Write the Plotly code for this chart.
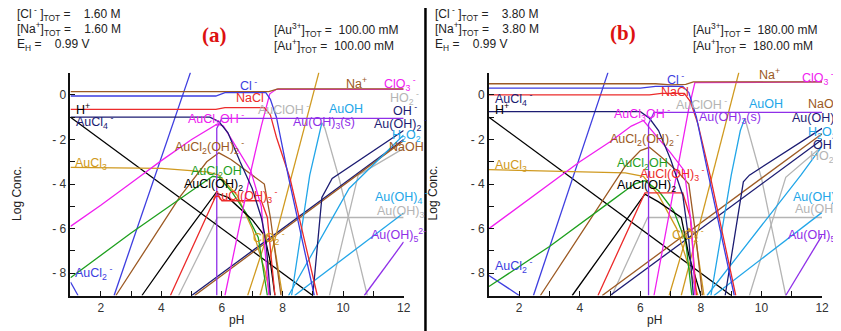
import plotly.graph_objects as go

# The page body has an 8px margin: the figure is sized so it fills the rest of the 841x331 window
OFF = 8
W, H = 841 - OFF, 331 - OFF

# ---------------- tick definitions ----------------
PH_TICKS = list(range(1, 13))
PH_TICKTEXT = [str(v) if v % 2 == 0 else "" for v in PH_TICKS]
LOG_TICKS = list(range(-9, 2))
LOG_TICKTEXT = [(("- %d" % -v) if v < 0 else "0") if v % 2 == 0 else "" for v in LOG_TICKS]

# ---------------- panel (a) series: (pH list, logC list) ----------------
a_H = ([1, 9], [-1, -9])
a_OH = ([5, 12], [-9, -2])
a_NaOH = ([5.1, 12], [-9, -2.05])
a_Na = ([1, 7.55, 7.85, 12], [0.15, 0.15, 0.27, 0.27])
a_Cl = ([1, 5.8, 6.1, 7.45, 7.6, 7.8, 8.2, 9.05], [-0.05, -0.05, 0.1, 0.1, -0.2, -1.0, -3.7, -9])
a_NaCl = ([1, 5.8, 6.1, 7.4, 7.6, 7.8, 8.25, 9.15], [-0.65, -0.65, -0.57, -0.57, -0.9, -1.9, -3.75, -9])
a_ClO3 = ([6.1, 6.96, 7.3, 7.58, 7.8, 12], [-9, -3.4, -1.4, 0.05, 0.25, 0.25])
a_AuCl4 = ([1, 5.6, 5.9, 6.2, 6.6, 7.0, 7.3, 7.45, 7.6], [-1.0, -1.0, -1.2, -1.7, -3.0, -4.2, -5.5, -6.5, -9])
a_AuOH3s = ([5.83, 5.83, 6.0, 12], [-9, -1.5, -1.05, -1.05])
a_AuCl3OH = ([1, 2, 3, 4, 5, 5.5, 5.85, 6.05, 6.4, 6.95, 7.3, 7.55],
             [-5.9, -4.95, -3.95, -2.95, -2.0, -1.6, -1.3, -1.4, -2.2, -3.4, -5.0, -9])
a_AuCl3 = ([1, 4, 5.5, 5.9, 6.5, 7.0, 7.4, 7.6], [-3.25, -3.3, -3.45, -3.6, -4.5, -6.0, -7.8, -9])
a_AuCl2OH2 = ([2.5, 3.5, 4.6, 5.5, 5.9, 6.3, 6.8, 7.4, 7.6, 7.95],
              [-9, -6.9, -4.6, -3.0, -2.6, -2.9, -3.4, -4.0, -5.5, -9])
a_AuCl2OH = ([1, 3, 5, 5.7, 5.9, 6.3, 6.8, 7.2, 7.5], [-8.2, -6.2, -4.3, -3.65, -3.7, -4.3, -5.3, -6.4, -9])
a_AuClOH2 = ([3.36, 4.5, 5.8, 6.2, 7.0, 7.4, 7.6, 7.75], [-9, -6.8, -4.4, -4.6, -5.6, -6.3, -7.5, -9])
a_AuClOH3 = ([4.3, 5.83, 6.0, 7.3, 7.5, 7.75], [-9, -4.45, -4.75, -4.75, -5.5, -9])
a_AuOH3aq = ([4.57, 5.85, 12], [-9, -5.5, -5.5])
a_O2 = ([2.44, 4.96], [-9, 1.0])
a_O3 = ([7.26, 9.2], [-9, 1.0])
a_ClO2 = ([6.85, 7.5, 7.7, 8.0], [-9, -6.3, -6.5, -9])
a_AuOH = ([8.3, 8.9, 9.3], [-9, -3.6, -1.25])
a_AuClOH = ([9.3, 9.4, 9.87, 10.8], [-1.25, -1.5, -3.75, -9])
a_HO2 = ([9.55, 10.5, 12], [-9, -3.6, -2.4])
a_AuOH4 = ([8.4, 12], [-9, -5.3])
a_H2O2 = ([8.2, 10.2, 12], [-9, -4.2, -1.8])
a_AuOH2 = ([9.0, 9.3, 9.64, 12], [-9, -4.6, -3.75, -1.6])
a_AuOH5 = ([10.7, 12], [-9, -6.6])
a_AuCl2 = ([1, 1.25], [-8.4, -9])

# ---------------- panel (b) series ----------------
b_H = ([1, 9], [-1, -9])
b_OH = ([5, 12], [-9, -2])
b_NaOH = ([4.74, 12], [-9, -1.74])
b_Na = ([1, 6.5, 7.0, 7.5, 7.75, 12], [0.5, 0.5, 0.45, 0.47, 0.58, 0.58])
b_Cl = ([1, 6.0, 6.5, 7.4, 7.6, 7.85, 8.2, 9.1], [0.3, 0.3, 0.38, 0.38, 0.1, -1.0, -3.3, -9])
b_NaCl = ([1, 6.3, 6.7, 7.45, 7.65, 7.9, 8.3, 9.15], [0.0, 0.0, 0.07, 0.07, -0.3, -1.3, -3.6, -9])
b_ClO3 = ([6.45, 7.2, 7.6, 7.8, 12], [-9, -3.4, -0.6, 0.55, 0.58])
b_AuCl4 = ([1, 6.0, 6.3, 6.6, 7.0, 7.4, 7.6, 7.75], [-0.75, -0.75, -1.05, -1.6, -2.9, -4.5, -6.5, -9])
b_AuOH3s = ([6.27, 6.27, 6.45, 12], [-9, -1.3, -0.78, -0.78])
b_AuCl3OH = ([1, 2, 3, 4, 5, 5.7, 6.1, 6.5, 7.0, 7.45, 7.7, 7.8],
             [-6.0, -5.0, -4.0, -3.0, -2.1, -1.4, -1.15, -1.8, -2.6, -3.4, -6.0, -9])
b_AuCl3 = ([1, 5.5, 6.1, 6.6, 7.2, 7.9], [-3.35, -3.5, -3.65, -4.5, -6.0, -9])
b_AuCl2OH2 = ([2.7, 4.0, 5.5, 6.0, 6.3, 6.7, 7.2, 7.6, 7.8, 8.05],
              [-9, -6.3, -3.2, -2.5, -2.35, -2.8, -3.4, -4.0, -6.0, -9])
b_AuCl2OH = ([1, 3, 5, 5.8, 6.15, 6.6, 7.1, 7.5, 7.7], [-8.6, -6.8, -4.8, -4.0, -3.85, -4.3, -5.2, -6.6, -9])
b_AuClOH2 = ([3.75, 5.0, 6.15, 6.6, 7.35, 7.6, 8.0], [-9, -6.6, -4.45, -4.8, -5.5, -7.2, -9])
b_AuClOH3 = ([4.6, 6.15, 7.4, 7.65, 7.85], [-9, -4.4, -4.4, -5.5, -9])
b_AuOH3aq = ([5.06, 6.24, 12], [-9, -5.5, -5.5])
b_O2 = ([2.47, 4.93], [-9, 1.0])
b_O3 = ([7.35, 9.25], [-9, 1.0])
b_ClO2 = ([6.95, 7.6, 7.8, 8.1], [-9, -6.0, -6.2, -9])
b_AuOH = ([8.33, 9.0, 9.3, 9.45], [-9, -3.6, -1.6, -1.05])
b_AuClOH = ([9.45, 9.8, 10.0, 10.8], [-1.05, -2.7, -3.75, -9])
b_HO2 = ([9.6, 10.8, 12], [-9, -3.7, -2.3])
b_AuOH4 = ([8.43, 12], [-9, -5.27])
b_H2O2 = ([8.2, 11.3, 12], [-9, -3.6, -2.3])
b_AuOH2 = ([8.8, 9.4, 9.6, 12], [-9, -3.9, -3.6, -1.5])
b_AuOH5 = ([10.8, 12], [-9, -6.3])
b_AuCl2 = ([1, 2.0], [-8.1, -9])

# ---------------- colours ----------------
C = dict(blue="#3d3de0", red="#ec2b2b", brown="#9c5a24", magenta="#f020f0", navy="#1c1c72",
         gold="#d09a20", green="#1fa01f", black="#000000", lblue="#22a6e8", gray="#b4b4b4",
         purple="#8f2fe8")

SERIES_A = [
    (a_AuOH3aq, "gray"), (a_AuClOH, "gray"), (a_HO2, "gray"),
    (a_H, "black"), (a_OH, "navy"), (a_NaOH, "brown"),
    (a_AuCl2, "blue"), (a_O2, "blue"), (a_O3, "gold"), (a_ClO2, "gold"),
    (a_AuCl3, "gold"), (a_AuCl2OH2, "brown"), (a_AuCl2OH, "green"), (a_AuClOH2, "black"),
    (a_AuClOH3, "red"), (a_AuCl3OH, "magenta"), (a_ClO3, "magenta"),
    (a_AuOH, "lblue"), (a_AuOH4, "lblue"), (a_H2O2, "lblue"), (a_AuOH2, "navy"),
    (a_AuOH5, "purple"), (a_Na, "brown"), (a_NaCl, "red"), (a_Cl, "blue"),
    (a_AuCl4, "navy"), (a_AuOH3s, "purple"),
]
SERIES_B = [
    (b_AuOH3aq, "gray"), (b_AuClOH, "gray"), (b_HO2, "gray"),
    (b_H, "black"), (b_OH, "navy"), (b_NaOH, "brown"),
    (b_AuCl2, "blue"), (b_O2, "blue"), (b_O3, "gold"), (b_ClO2, "gold"),
    (b_AuCl3, "gold"), (b_AuCl2OH2, "brown"), (b_AuCl2OH, "green"), (b_AuClOH2, "black"),
    (b_AuClOH3, "red"), (b_AuCl3OH, "magenta"), (b_ClO3, "magenta"),
    (b_AuOH, "lblue"), (b_AuOH4, "lblue"), (b_H2O2, "lblue"), (b_AuOH2, "navy"),
    (b_AuOH5, "purple"), (b_Na, "brown"), (b_NaCl, "red"), (b_Cl, "blue"),
    (b_AuCl4, "navy"), (b_AuOH3s, "purple"),
]

# species labels: (text, colour, pH, logC)
LABELS_A = [
    ("O<sub>2</sub>", "blue", 4.44, 1.3), ("O<sub>3</sub>", "gold", 8.86, 1.3),
    ("Na<sup>+</sup>", "brown", 10.03, 0.54), ("ClO<sub>3</sub><sup> -</sup>", "magenta", 11.28, 0.49),
    ("HO<sub>2</sub><sup> -</sup>", "gray", 11.47, -0.13), ("OH<sup> -</sup>", "navy", 11.57, -0.67),
    ("Au(OH)<sub>2</sub><sup> -</sup>", "navy", 10.95, -1.29), ("H<sub>2</sub>O<sub>2</sub>", "lblue", 11.54, -1.83),
    ("NaOH", "brown", 11.44, -2.32), ("Cl<sup> -</sup>", "blue", 6.53, 0.45),
    ("NaCl", "red", 6.4, -0.13), ("AuClOH<sup> -</sup>", "gray", 7.12, -0.63),
    ("AuOH", "lblue", 9.48, -0.63), ("Au(OH)<sub>3</sub>(s)", "purple", 8.27, -1.25),
    ("H<sup>+</sup>", "black", 1.1, -0.63), ("AuCl<sub>4</sub><sup> -</sup>", "navy", 1.1, -1.2),
    ("AuCl<sub>3</sub>OH<sup> -</sup>", "magenta", 4.83, -1.07),
    ("AuCl<sub>2</sub>(OH)<sub>2</sub><sup> -</sup>", "brown", 4.4, -2.32),
    ("AuCl<sub>3</sub>", "gold", 1.07, -3.08), ("AuCl<sub>2</sub>OH", "green", 4.9, -3.48),
    ("AuCl(OH)<sub>2</sub>", "black", 4.67, -4.06), ("AuCl(OH)<sub>3</sub><sup> -</sup>", "red", 5.65, -4.55),
    ("ClO<sub>2</sub><sup> -</sup>", "gold", 6.96, -6.43), ("Au(OH)<sub>4</sub><sup> -</sup>", "lblue", 10.98, -4.6),
    ("Au(OH)<sub>3</sub>", "gray", 11.05, -5.27), ("Au(OH)<sub>5</sub><sup>2-</sup>", "purple", 10.85, -6.3),
    ("AuCl<sub>2</sub><sup> -</sup>", "blue", 1.07, -7.99),
]
LABELS_B = [
    ("O<sub>2</sub>", "blue", 4.4, 1.38), ("O<sub>3</sub>", "gold", 8.92, 1.38),
    ("Na<sup>+</sup>", "brown", 9.84, 0.94), ("ClO<sub>3</sub><sup> -</sup>", "magenta", 11.28, 0.76),
    ("Cl<sup> -</sup>", "blue", 6.8, 0.71), ("NaCl", "red", 6.63, 0.13),
    ("AuClOH<sup> -</sup>", "gray", 7.12, -0.4), ("AuOH", "lblue", 9.51, -0.4),
    ("NaOH", "brown", 11.47, -0.4), ("Au(OH)<sub>3</sub>(s)", "purple", 7.87, -1.03),
    ("Au(OH)<sub>2</sub><sup> -</sup>", "navy", 10.95, -1.03), ("H<sub>2</sub>O<sub>2</sub>", "lblue", 11.47, -1.7),
    ("OH<sup> -</sup>", "navy", 11.64, -2.19), ("HO<sub>2</sub><sup> -</sup>", "gray", 11.54, -2.72),
    ("H<sup>+</sup>", "black", 1.13, -0.63), ("AuCl<sub>4</sub><sup> -</sup>", "navy", 1.13, -0.18),
    ("AuCl<sub>3</sub>OH<sup> -</sup>", "magenta", 5.06, -0.85),
    ("AuCl<sub>2</sub>(OH)<sub>2</sub><sup> -</sup>", "brown", 4.93, -1.96),
    ("AuCl<sub>2</sub>OH", "green", 5.16, -3.08), ("AuCl(OH)<sub>3</sub><sup> -</sup>", "red", 5.91, -3.53),
    ("AuCl(OH)<sub>2</sub>", "black", 5.16, -4.1), ("AuCl<sub>3</sub>", "gold", 1.13, -3.17),
    ("ClO<sub>2</sub><sup> -</sup>", "gold", 6.99, -6.3), ("Au(OH)<sub>4</sub><sup> -</sup>", "lblue", 10.98, -4.6),
    ("Au(OH)<sub>3</sub>", "gray", 11.05, -5.18), ("Au(OH)<sub>5</sub><sup>2-</sup>", "purple", 10.82, -6.3),
    ("AuCl<sub>2</sub><sup> -</sup>", "blue", 1.13, -7.68),
]

NB = "\u00a0"
HEAD_A = ["[Cl<sup> -</sup> ]<sub>TOT</sub> =" + NB * 4 + "1.60 M",
          "[Na<sup>+</sup>]<sub>TOT</sub> =" + NB * 4 + "1.60 M",
          "E<sub>H</sub> =" + NB * 4 + "0.99 V"]
HEAD_A2 = ["[Au<sup>3+</sup>]<sub>TOT</sub> =" + NB * 2 + "100.00 mM",
           "[Au<sup>+</sup>]<sub>TOT</sub> =" + NB * 2 + "100.00 mM"]
HEAD_B = ["[Cl<sup> -</sup> ]<sub>TOT</sub> =" + NB * 4 + "3.80 M",
          "[Na<sup>+</sup>]<sub>TOT</sub> =" + NB * 4 + "3.80 M",
          "E<sub>H</sub> =" + NB * 4 + "0.99 V"]
HEAD_B2 = ["[Au<sup>3+</sup>]<sub>TOT</sub> =" + NB * 2 + "180.00 mM",
           "[Au<sup>+</sup>]<sub>TOT</sub> =" + NB * 2 + "180.00 mM"]

FONT = "Liberation Sans, Arial, sans-serif"


def fx(px):
    """window pixel x -> paper fraction"""
    return (px - OFF) / W


def fy(py):
    """window pixel y -> paper fraction"""
    return 1 - (py - OFF) / H


fig = go.Figure()
for series, ax in ((SERIES_A, ""), (SERIES_B, "2")):
    for (xs, ys), col in series:
        fig.add_trace(go.Scatter(x=xs, y=ys, mode="lines", xaxis="x" + ax, yaxis="y" + ax,
                                 line=dict(color=C[col], width=1.3), showlegend=False,
                                 hoverinfo="skip"))

annotations = []
for labels, ax in ((LABELS_A, ""), (LABELS_B, "2")):
    for txt, col, px, py in labels:
        annotations.append(dict(text=txt, x=px, y=py, xref="x" + ax, yref="y" + ax,
                                xanchor="left", yanchor="middle", showarrow=False,
                                font=dict(family=FONT, size=12.5, color=C[col])))


def pa(px, py, text, size=12, color="#222", xanchor="left", family=FONT, angle=0):
    annotations.append(dict(text=text, x=fx(px), y=fy(py), xref="paper", yref="paper",
                            xanchor=xanchor, yanchor="middle", showarrow=False, textangle=angle,
                            font=dict(family=family, size=size, color=color)))


for i, t in enumerate(HEAD_A):
    pa(15, 14 + 15.5 * i, t)
for i, t in enumerate(HEAD_A2):
    pa(274, 30 + 16 * i, t)
for i, t in enumerate(HEAD_B):
    pa(437, 14 + 15.5 * i, t)
for i, t in enumerate(HEAD_B2):
    pa(697, 30 + 16 * i, t)
pa(216, 35, "<b>(a)</b>", size=21, color="#dd1111", xanchor="center",
   family="Liberation Serif, Times New Roman, serif")
pa(628, 33, "<b>(b)</b>", size=21, color="#dd1111", xanchor="center",
   family="Liberation Serif, Times New Roman, serif")
pa(17, 193, "Log Conc.", size=12, xanchor="center", angle=-90)
pa(437, 193, "Log Conc.", size=12, xanchor="center", angle=-90)
pa(238, 320, "pH", size=12, xanchor="center")
pa(660, 320, "pH", size=12, xanchor="center")

ydom = [fy(295.5), fy(72.6)]
xaxis_common = dict(range=[1, 12], tickvals=PH_TICKS, ticktext=PH_TICKTEXT, ticks="inside",
                    ticklen=5, tickwidth=1.3, tickcolor="#111", showline=True, linecolor="#111",
                    linewidth=1.6, showgrid=False, zeroline=False,
                    tickfont=dict(family=FONT, size=12, color="#333"))
yaxis_common = dict(range=[-9, 1], tickvals=LOG_TICKS, ticktext=LOG_TICKTEXT, ticks="inside",
                    ticklen=5, tickwidth=1.3, tickcolor="#111", showline=True, linecolor="#111",
                    linewidth=1.6, showgrid=False, zeroline=False, domain=ydom,
                    tickfont=dict(family=FONT, size=12, color="#333"))

fig.update_layout(
    width=W, height=H, margin=dict(l=0, r=0, t=0, b=0),
    paper_bgcolor="white", plot_bgcolor="white", showlegend=False,
    xaxis=dict(domain=[fx(71), fx(407)], anchor="y", **xaxis_common),
    yaxis=dict(anchor="x", **yaxis_common),
    xaxis2=dict(domain=[fx(493), fx(829)], anchor="y2", **xaxis_common),
    yaxis2=dict(anchor="x2", **yaxis_common),
    annotations=annotations,
    shapes=[dict(type="line", xref="paper", yref="paper", x0=fx(429), x1=fx(429), y0=0, y1=1,
                 line=dict(color="black", width=2.5))],
)

fig.write_html("out.html")
